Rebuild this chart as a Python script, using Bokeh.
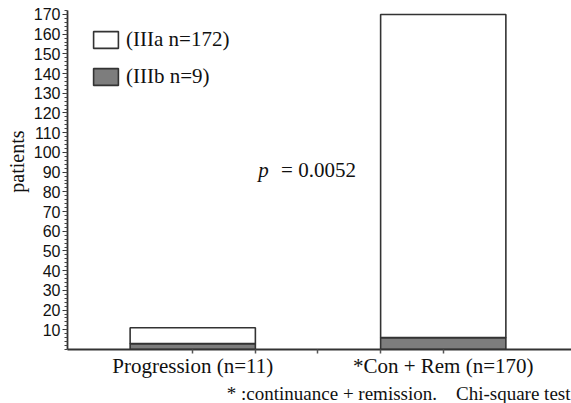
from bokeh.plotting import figure
from bokeh.models import Range1d, FixedTicker, Label, Legend, LegendItem, ColumnDataSource, Title
from bokeh.embed import file_html
from bokeh.resources import INLINE

# ---- data ----
categories = ["Progression (n=11)", "*Con + Rem (n=170)"]
cat_pos = [1, 3]
iiia = [8, 164]
iiib = [3, 6]
series_names = ["(IIIa n=172)", "(IIIb n=9)"]
y_ticks = list(range(10, 171, 10))
y_minor = list(range(0, 173, 2))
p_text = "p"
p_value_text = "= 0.0052"
footnote = "* :continuance + remission.\u00a0\u00a0\u00a0 Chi-square test"
y_label = "patients"

SERIF = "Liberation Serif"
SANS = "Liberation Sans"

p = figure(width=571, height=403, output_backend="svg", toolbar_location=None,
           x_range=Range1d(0, 4.024), y_range=Range1d(0, 172),
           min_border_left=66, min_border_right=0, min_border_top=10, min_border_bottom=54)
p.outline_line_color = None
p.grid.visible = False
p.background_fill_color = "white"

src = ColumnDataSource(dict(x=cat_pos, iiib=iiib, iiia=iiia))
rs = p.vbar_stack(["iiib", "iiia"], x="x", width=1.0, source=src,
                  fill_color=["#7d7d7d", "white"], line_color="#333333", line_width=1.6)

legend = Legend(items=[LegendItem(label=series_names[0], renderers=[rs[1]]),
                       LegendItem(label=series_names[1], renderers=[rs[0]])],
                location=(23, 260), orientation="vertical",
                glyph_width=31, glyph_height=21, spacing=12, label_standoff=5,
                label_text_font=SERIF, label_text_font_size="21px", label_text_color="#111111",
                label_height=21, padding=0, margin=0,
                border_line_color=None, background_fill_alpha=0)
p.add_layout(legend, "center")

# x axis
xa = p.xaxis[0]
xa.ticker = FixedTicker(ticks=[1, 1.5, 2, 2.5, 3])
xa.major_label_overrides = {1: categories[0], 1.5: "", 2: "", 2.5: "", 3: categories[1]}
xa.major_label_text_font = SERIF
xa.major_label_text_font_size = "21px"
xa.major_label_text_color = "#111111"
xa.major_label_standoff = 0
xa.major_tick_in = 0
xa.major_tick_out = 4
xa.minor_tick_line_color = None
xa.axis_line_color = "#333333"
xa.axis_line_width = 1.8
xa.major_tick_line_color = "#555555"
xa.major_tick_line_width = 1.5

# y axis
ya = p.yaxis[0]
ya.ticker = FixedTicker(ticks=y_ticks, minor_ticks=y_minor)
ya.major_label_text_font = SANS
ya.major_label_text_font_size = "16px"
ya.major_label_text_color = "#111111"
ya.major_label_standoff = 2
ya.major_tick_in = 0
ya.major_tick_out = 5
ya.minor_tick_in = 0
ya.minor_tick_out = 3
ya.axis_line_color = "#333333"
ya.axis_line_width = 1.8
ya.major_tick_line_color = "#333333"
ya.minor_tick_line_color = "#444444"

# texts
p.add_layout(Title(text=y_label, align="right", offset=120, text_font=SERIF,
                   text_font_size="20px", text_font_style="normal", text_color="#111111",
                   standoff=6), "left")
p.add_layout(Title(text=footnote, align="right", offset=1, text_font=SERIF,
                   text_font_size="19px", text_font_style="normal", text_color="#111111",
                   standoff=0), "below")
p.add_layout(Label(x=1.522, y=91.0, text=p_text, text_align="left", text_baseline="alphabetic",
                   text_font=SERIF, text_font_style="italic", text_font_size="21px",
                   text_color="#111111"))
p.add_layout(Label(x=1.705, y=91.0, text=p_value_text, text_align="left",
                   text_baseline="alphabetic", text_font=SERIF, text_font_size="21px",
                   text_color="#111111"))

open("out.html", "w").write(file_html(p, INLINE))
